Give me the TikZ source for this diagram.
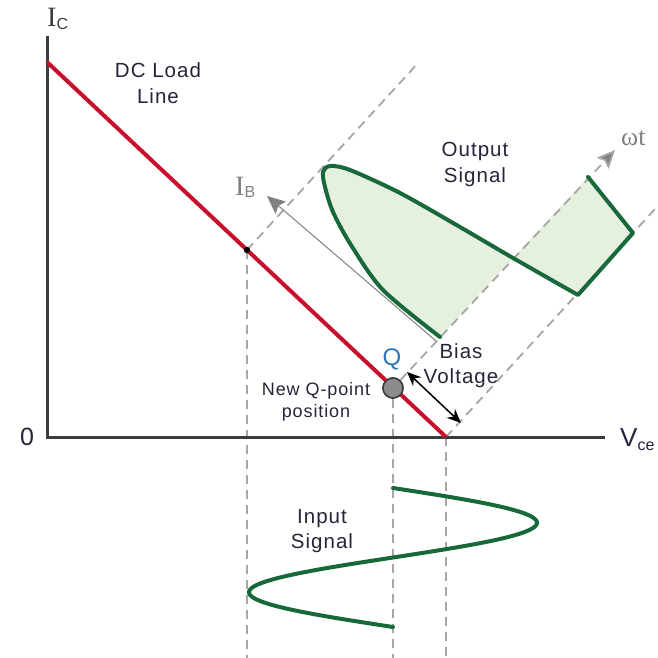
\documentclass[tikz,border=0pt]{standalone}
\usepackage{fontspec}
\setmainfont{Liberation Sans}
\newfontfamily\seriffam{Liberation Serif}
\usetikzlibrary{arrows.meta}
\definecolor{axisgray}{HTML}{3C3C3C}
\definecolor{loadred}{HTML}{C8102E}
\definecolor{dashgray}{HTML}{A6A6A6}
\definecolor{siggreen}{HTML}{17693A}
\definecolor{sigfill}{HTML}{E6F0DE}
\definecolor{txt}{HTML}{26243A}
\definecolor{lblgray}{HTML}{808080}
\definecolor{qblue}{HTML}{2E75B6}
\definecolor{qfill}{HTML}{8C8C8C}
\begin{document}
\begin{tikzpicture}[x=1pt,y=-1pt,
  axisline/.style={draw=axisgray,line width=3pt},
  loadline/.style={draw=loadred,line width=4pt},
  guide/.style={draw=dashgray,line width=1.8pt,dash pattern=on 9pt off 6pt},
  sig/.style={draw=siggreen,line width=4pt,line join=round,line cap=round},
  lbl/.style={font=\fontsize{20.5}{25}\selectfont\addfontfeatures{LetterSpace=5}, text=txt, align=center, inner sep=0pt},
  smalllbl/.style={font=\fontsize{18}{22}\selectfont\addfontfeatures{LetterSpace=5}, text=txt, align=center, inner sep=0pt},
  greytip/.style={-{Stealth[length=18pt,width=16pt,inset=3pt,fill=lblgray]}},
  qdot/.style={circle,draw=axisgray,fill=qfill,line width=1.5pt,minimum size=20pt,inner sep=0pt},
]
\useasboundingbox (0,0) rectangle (657,658);
% key coordinates
\coordinate (O) at (47,437);
\coordinate (ytop) at (47,36);
\coordinate (xend) at (605,437);
\coordinate (A) at (47,62);
\coordinate (B) at (446,437);
\coordinate (P) at (247,250);
\coordinate (Qc) at (393,388);
\coordinate (Ptop) at (419,62);
\coordinate (Btop) at (655,209);
\coordinate (wt) at (615,150);
\coordinate (P0) at (247,658);
\coordinate (Q0) at (393,658);
\coordinate (B0) at (446,658);
\coordinate (gs) at (436,341);
\coordinate (gt) at (267,196);
\coordinate (bv1) at (407,372);
\coordinate (bv2) at (461,423);
\coordinate (r1) at (633,233);
\coordinate (r2) at (588,177);

% output signal fill
\fill[sigfill] plot[smooth,tension=0.5] coordinates {(440,337) (383,290) (351,245) (333,212) (325,187) (323,172) (330,166) (350,170) (400,193) (460,227) (513,258) (578,295)} -- (r1) -- (r2) -- cycle;

% guide lines
\draw[guide] (P) -- (Ptop);
\draw[guide] (B) -- (Btop);
\draw[guide] (P) -- (P0);
\draw[guide] (B) -- (B0);
\node[qdot] (qpt) at (Qc) {};
\draw[guide] (qpt.south) -- (Q0);
\draw[guide,greytip] (qpt) -- (wt);

% I_B axis (grey thin)
\draw[draw=lblgray,line width=1pt,greytip] (gs) -- (gt);

% axes
\draw[axisline] (ytop) -- (O) -- (xend);

% load line
\draw[loadline] (A) -- (B);
\fill[black] (P) circle (3.2pt);
\node[qdot] (qtop) at (Qc) {};

% output signal line
\draw[sig] plot[smooth,tension=0.5] coordinates {(440,337) (383,290) (351,245) (333,212) (325,187) (323,172) (330,166) (350,170) (400,193) (460,227) (513,258) (578,295)} -- (r1) -- (r2);

% input signal
\draw[sig] plot[domain=488:627,samples=100] ({393+144*sin((\x-488)/139*360)},\x);

% bias voltage arrow
\draw[black,line width=1.5pt,{Stealth[length=14pt,width=12pt]}-{Stealth[length=14pt,width=12pt]}] (bv1) -- (bv2);

% labels
\node[anchor=base west,inner sep=0pt,text=axisgray] (icl) at (47,27) {\seriffam\fontsize{28}{28}\selectfont I\raisebox{-3pt}{\normalfont\fontsize{16}{16}\selectfont C}};
\node[anchor=base west,inner sep=0pt,text=lblgray] (ibl) at (235,195) {\seriffam\fontsize{28}{28}\selectfont I\raisebox{-2pt}{\normalfont\fontsize{16}{16}\selectfont B}};
\node[anchor=base west,inner sep=0pt,text=lblgray] (wtl) at (621,145) {\seriffam\fontsize{26}{26}\selectfont ωt};
\node[anchor=base,inner sep=0pt,text=txt] (zero) at (27,445) {\fontsize{25}{25}\selectfont 0};
\node[anchor=base west,inner sep=0pt,text=txt] (vce) at (620,446) {\fontsize{26}{26}\selectfont V\raisebox{-4pt}{\fontsize{16}{16}\selectfont ce}};
\node[anchor=base,inner sep=0pt,text=qblue] (ql) at (392,365) {\fontsize{24}{24}\selectfont Q};

\node[lbl,anchor=base] (dcl) at (158,103) {DC Load\\Line};
\node[lbl,anchor=base] (outl) at (475,182) {Output\\Signal};
\node[lbl,anchor=base] (inl) at (322,548) {Input\\Signal};
\node[lbl,anchor=base] (bvl) at (461,383) {Bias\\Voltage};
\node[smalllbl,anchor=base] (nql) at (316,417) {New Q-point\\position};
\end{tikzpicture}
\end{document}
